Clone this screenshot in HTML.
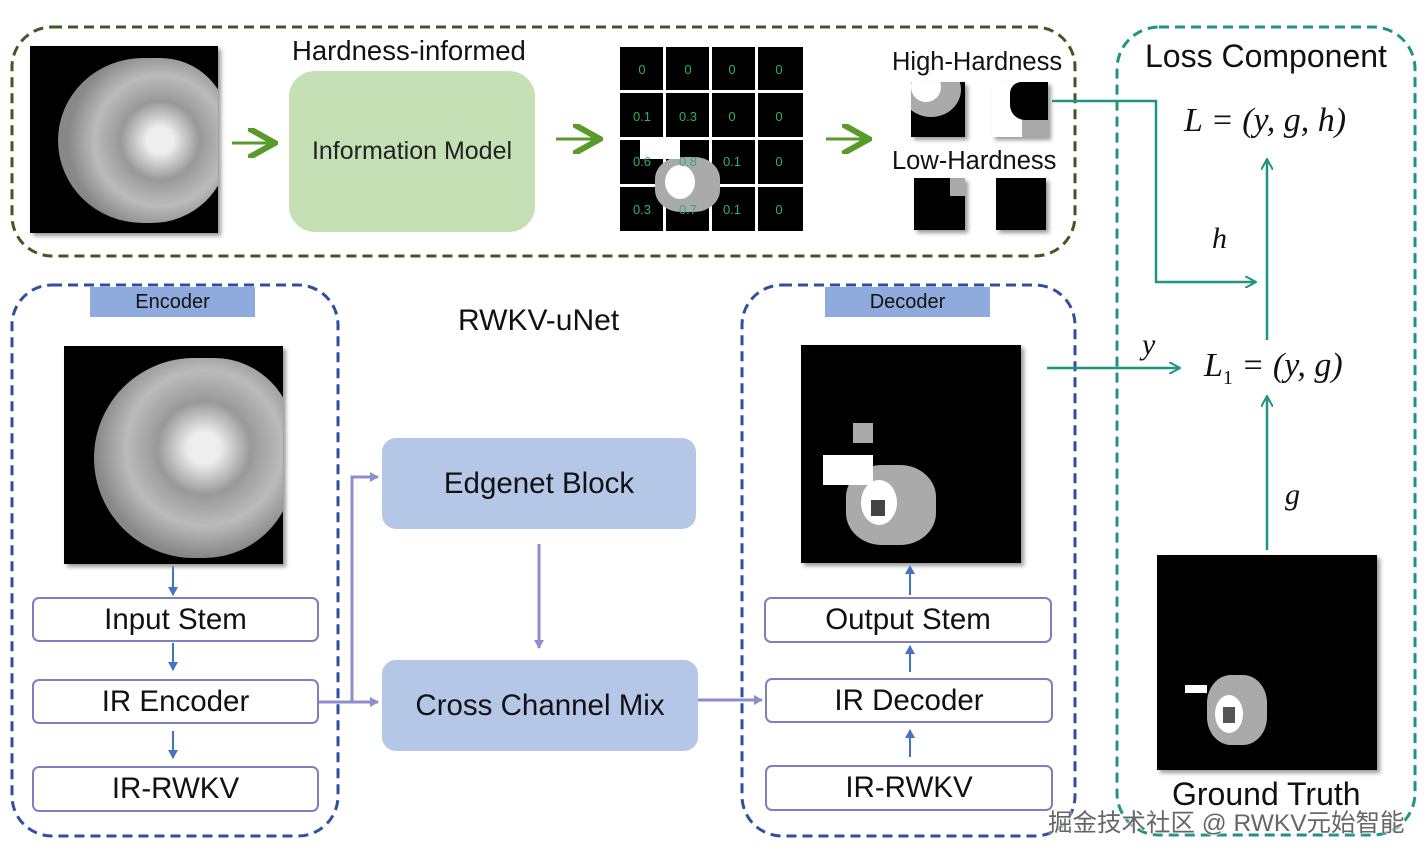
<!DOCTYPE html>
<html><head><meta charset="utf-8"><style>
body{margin:0;width:1426px;height:857px;background:#fff;position:relative;overflow:hidden;font-family:"Liberation Sans","Noto Sans CJK SC",sans-serif;}
.a{position:absolute;}
.t{position:absolute;white-space:nowrap;color:#111;}
.pb{position:absolute;border:2px solid #7f7fc0;border-radius:7px;background:#fff;display:flex;align-items:center;justify-content:center;font-size:29.5px;color:#111;box-sizing:border-box;}
.bb{position:absolute;background:#b4c7e7;border-radius:14px;display:flex;align-items:center;justify-content:center;font-size:29.5px;color:#111;}
.lbl{position:absolute;background:#8faadc;display:flex;align-items:center;justify-content:center;font-size:20px;color:#111;}
.img{position:absolute;background:#000;box-shadow:3px 3px 4px #999;overflow:hidden;}
.cell{position:absolute;color:#2fb060;font-size:13px;text-align:center;width:44px;}
.m{font-family:"Liberation Serif","DejaVu Serif",serif;font-style:italic;}
</style></head><body>
<svg class="a" style="left:0;top:0" width="1426" height="857">
<defs>
<marker id="g" markerWidth="10" markerHeight="10" refX="8" refY="5" orient="auto"><path d="M0,0 L9,5 L0,10" fill="none" stroke="#5a9a2a" stroke-width="2"/></marker>
<marker id="tl" markerWidth="12" markerHeight="12" refX="10" refY="6" orient="auto" markerUnits="userSpaceOnUse"><path d="M0,0 L11,6 L0,12" fill="none" stroke="#1f9482" stroke-width="2"/></marker>
<marker id="b" markerWidth="10" markerHeight="10" refX="8" refY="5" orient="auto" markerUnits="userSpaceOnUse"><path d="M0,0 L9,5 L0,10 Z" fill="#4472c4"/></marker>
<marker id="p" markerWidth="10" markerHeight="10" refX="8" refY="5" orient="auto" markerUnits="userSpaceOnUse"><path d="M0,0 L9,5 L0,10 Z" fill="#8e8ecc"/></marker>
</defs>
<rect x="12" y="27" width="1063" height="229" rx="40" fill="none" stroke="#3d5a22" stroke-width="3" stroke-dasharray="10,6"/>
<rect x="1117" y="27" width="298" height="808" rx="42" fill="none" stroke="#1f9482" stroke-width="3" stroke-dasharray="10,6"/>
<rect x="12" y="285" width="326" height="551" rx="40" fill="none" stroke="#2f4f9f" stroke-width="3" stroke-dasharray="10,6"/>
<rect x="742" y="285" width="333" height="551" rx="40" fill="none" stroke="#2f4f9f" stroke-width="3" stroke-dasharray="10,6"/>
<g stroke="#5a9a2a" stroke-width="3" fill="none">
<line x1="232" y1="143" x2="272" y2="143" marker-end="url(#g)"/>
<line x1="556" y1="139" x2="597" y2="139" marker-end="url(#g)"/>
<line x1="826" y1="139" x2="866" y2="139" marker-end="url(#g)"/>
</g>
<g stroke="#1f9482" stroke-width="2.5" fill="none">
<polyline points="1052,101 1156,101 1156,282 1255,282" marker-end="url(#tl)"/>
<line x1="1267" y1="340" x2="1267" y2="160" marker-end="url(#tl)"/>
<line x1="1047" y1="368" x2="1179" y2="368" marker-end="url(#tl)"/>
<line x1="1267" y1="550" x2="1267" y2="397" marker-end="url(#tl)"/>
</g>
<g stroke="#4472c4" stroke-width="2" fill="none">
<line x1="173" y1="566" x2="173" y2="595" marker-end="url(#b)"/>
<line x1="173" y1="643" x2="173" y2="670" marker-end="url(#b)"/>
<line x1="173" y1="731" x2="173" y2="758" marker-end="url(#b)"/>
<line x1="910" y1="595" x2="910" y2="566" marker-end="url(#b)"/>
<line x1="910" y1="672" x2="910" y2="646" marker-end="url(#b)"/>
<line x1="910" y1="757" x2="910" y2="730" marker-end="url(#b)"/>
</g>
<g stroke="#8e8ecc" stroke-width="3" fill="none">
<line x1="318" y1="702" x2="378" y2="702" marker-end="url(#p)"/>
<polyline points="352,702 352,477 378,477" marker-end="url(#p)"/>
<line x1="539" y1="544" x2="539" y2="648" marker-end="url(#p)"/>
<line x1="698" y1="700" x2="762" y2="700" marker-end="url(#p)"/>
</g>
</svg>

<div class="img" style="left:30px;top:46px;width:188px;height:187px;"><div class="a" style="left:28px;top:12px;width:170px;height:165px;border-radius:50% 40% 45% 50%;background:radial-gradient(circle at 60% 50%,#eee 10%,#999 30%,#bbb 50%,#888 70%);"></div></div>
<div class="t" style="left:292px;top:35px;font-size:27.5px;">Hardness-informed</div>
<div class="a" style="left:289px;top:71px;width:246px;height:161px;background:#c5e0b4;border-radius:26px;display:flex;align-items:center;justify-content:center;font-size:25px;color:#222;">Information Model</div>

<div class="a" style="left:620px;top:47px;width:183px;height:184px;background:#fff;">
<div class="a" style="left:0;top:0;width:43px;height:43px;background:#000"></div>
<div class="a" style="left:46px;top:0;width:43px;height:43px;background:#000"></div>
<div class="a" style="left:92px;top:0;width:43px;height:43px;background:#000"></div>
<div class="a" style="left:138px;top:0;width:45px;height:43px;background:#000"></div>
<div class="a" style="left:0;top:46px;width:43px;height:44px;background:#000"></div>
<div class="a" style="left:46px;top:46px;width:43px;height:44px;background:#000"></div>
<div class="a" style="left:92px;top:46px;width:43px;height:44px;background:#000"></div>
<div class="a" style="left:138px;top:46px;width:45px;height:44px;background:#000"></div>
<div class="a" style="left:0;top:93px;width:43px;height:44px;background:#000"></div>
<div class="a" style="left:46px;top:93px;width:43px;height:44px;background:#000"></div>
<div class="a" style="left:92px;top:93px;width:43px;height:44px;background:#000"></div>
<div class="a" style="left:138px;top:93px;width:45px;height:44px;background:#000"></div>
<div class="a" style="left:0;top:140px;width:43px;height:44px;background:#000"></div>
<div class="a" style="left:46px;top:140px;width:43px;height:44px;background:#000"></div>
<div class="a" style="left:92px;top:140px;width:43px;height:44px;background:#000"></div>
<div class="a" style="left:138px;top:140px;width:45px;height:44px;background:#000"></div>
<div class="a" style="left:35px;top:110px;width:65px;height:55px;background:#aaa;border-radius:40%;"></div>
<div class="a" style="left:45px;top:118px;width:30px;height:34px;background:#fff;border-radius:50%;"></div>
<div class="a" style="left:20px;top:92px;width:40px;height:20px;background:#fff;"></div>
<div class="cell" style="left:0;top:15px">0</div><div class="cell" style="left:46px;top:15px">0</div><div class="cell" style="left:90px;top:15px">0</div><div class="cell" style="left:137px;top:15px">0</div>
<div class="cell" style="left:0;top:62px">0.1</div><div class="cell" style="left:46px;top:62px">0.3</div><div class="cell" style="left:90px;top:62px">0</div><div class="cell" style="left:137px;top:62px">0</div>
<div class="cell" style="left:0;top:107px">0.6</div><div class="cell" style="left:46px;top:107px">0.8</div><div class="cell" style="left:90px;top:107px">0.1</div><div class="cell" style="left:137px;top:107px">0</div>
<div class="cell" style="left:0;top:155px">0.3</div><div class="cell" style="left:46px;top:155px">0.7</div><div class="cell" style="left:90px;top:155px">0.1</div><div class="cell" style="left:137px;top:155px">0</div>
</div>

<div class="t" style="left:892px;top:48px;font-size:25.5px;">High-Hardness</div>
<div class="img" style="left:911px;top:82px;width:54px;height:55px;"><div class="a" style="left:-10px;top:-20px;width:60px;height:55px;border-radius:50%;background:#aaa;"></div><div class="a" style="left:0;top:-10px;width:30px;height:30px;border-radius:50%;background:#fff;"></div></div>
<div class="img" style="left:992px;top:82px;width:56px;height:55px;background:#fff;"><div class="a" style="left:18px;top:0;width:38px;height:38px;background:#000;border-radius:30% 0 0 40%;"></div><div class="a" style="left:30px;top:38px;width:26px;height:17px;background:#aaa;"></div></div>
<div class="t" style="left:892px;top:147px;font-size:25.5px;">Low-Hardness</div>
<div class="img" style="left:914px;top:178px;width:51px;height:52px;"><div class="a" style="left:36px;top:0;width:15px;height:18px;background:#aaa;"></div></div>
<div class="img" style="left:996px;top:178px;width:50px;height:52px;"></div>

<div class="t" style="left:1145px;top:38px;font-size:32px;">Loss Component</div>
<div class="t m" style="left:1184px;top:102px;font-size:34px;">L = (y, g, h)</div>
<div class="t m" style="left:1212px;top:222px;font-size:30px;">h</div>
<div class="t m" style="left:1142px;top:328px;font-size:30px;">y</div>
<div class="t m" style="left:1204px;top:347px;font-size:34px;">L<sub style="font-size:20px;font-style:normal">1</sub> = (y, g)</div>
<div class="t m" style="left:1285px;top:478px;font-size:30px;">g</div>
<div class="img" style="left:1157px;top:555px;width:220px;height:215px;"><div class="a" style="left:50px;top:120px;width:60px;height:70px;background:#aaa;border-radius:40%;"></div><div class="a" style="left:58px;top:140px;width:28px;height:38px;background:#fff;border-radius:50%;"></div><div class="a" style="left:66px;top:152px;width:12px;height:16px;background:#555;"></div><div class="a" style="left:28px;top:130px;width:22px;height:8px;background:#fff;"></div></div>
<div class="t" style="left:1172px;top:776px;font-size:32px;">Ground Truth</div>

<div class="lbl" style="left:90px;top:287px;width:165px;height:30px;">Encoder</div>
<div class="img" style="left:64px;top:346px;width:219px;height:218px;"><div class="a" style="left:30px;top:12px;width:200px;height:200px;border-radius:50% 40% 45% 50%;background:radial-gradient(circle at 55% 45%,#eee 10%,#999 30%,#bbb 50%,#888 70%);"></div></div>
<div class="pb" style="left:32px;top:597px;width:287px;height:45px;">Input Stem</div>
<div class="pb" style="left:32px;top:679px;width:287px;height:45px;">IR Encoder</div>
<div class="pb" style="left:32px;top:766px;width:287px;height:46px;">IR-RWKV</div>

<div class="t" style="left:458px;top:304px;font-size:30px;">RWKV-uNet</div>
<div class="bb" style="left:382px;top:438px;width:314px;height:91px;">Edgenet Block</div>
<div class="bb" style="left:382px;top:660px;width:316px;height:91px;">Cross Channel Mix</div>

<div class="lbl" style="left:825px;top:287px;width:165px;height:30px;">Decoder</div>
<div class="img" style="left:801px;top:345px;width:220px;height:218px;"><div class="a" style="left:45px;top:120px;width:90px;height:80px;background:#aaa;border-radius:40%;"></div><div class="a" style="left:60px;top:135px;width:36px;height:45px;background:#fff;border-radius:50%;"></div><div class="a" style="left:70px;top:155px;width:14px;height:16px;background:#444;"></div><div class="a" style="left:22px;top:110px;width:50px;height:30px;background:#fff;"></div><div class="a" style="left:52px;top:78px;width:20px;height:20px;background:#aaa;"></div></div>
<div class="pb" style="left:764px;top:597px;width:288px;height:46px;">Output Stem</div>
<div class="pb" style="left:765px;top:678px;width:288px;height:45px;">IR Decoder</div>
<div class="pb" style="left:765px;top:765px;width:288px;height:46px;">IR-RWKV</div>

<div class="t" style="left:1048px;top:804px;font-size:24.5px;color:#666;text-shadow:0 0 2px #fff,0 0 2px #fff;">掘金技术社区 @ RWKV元始智能</div>
</body></html>
